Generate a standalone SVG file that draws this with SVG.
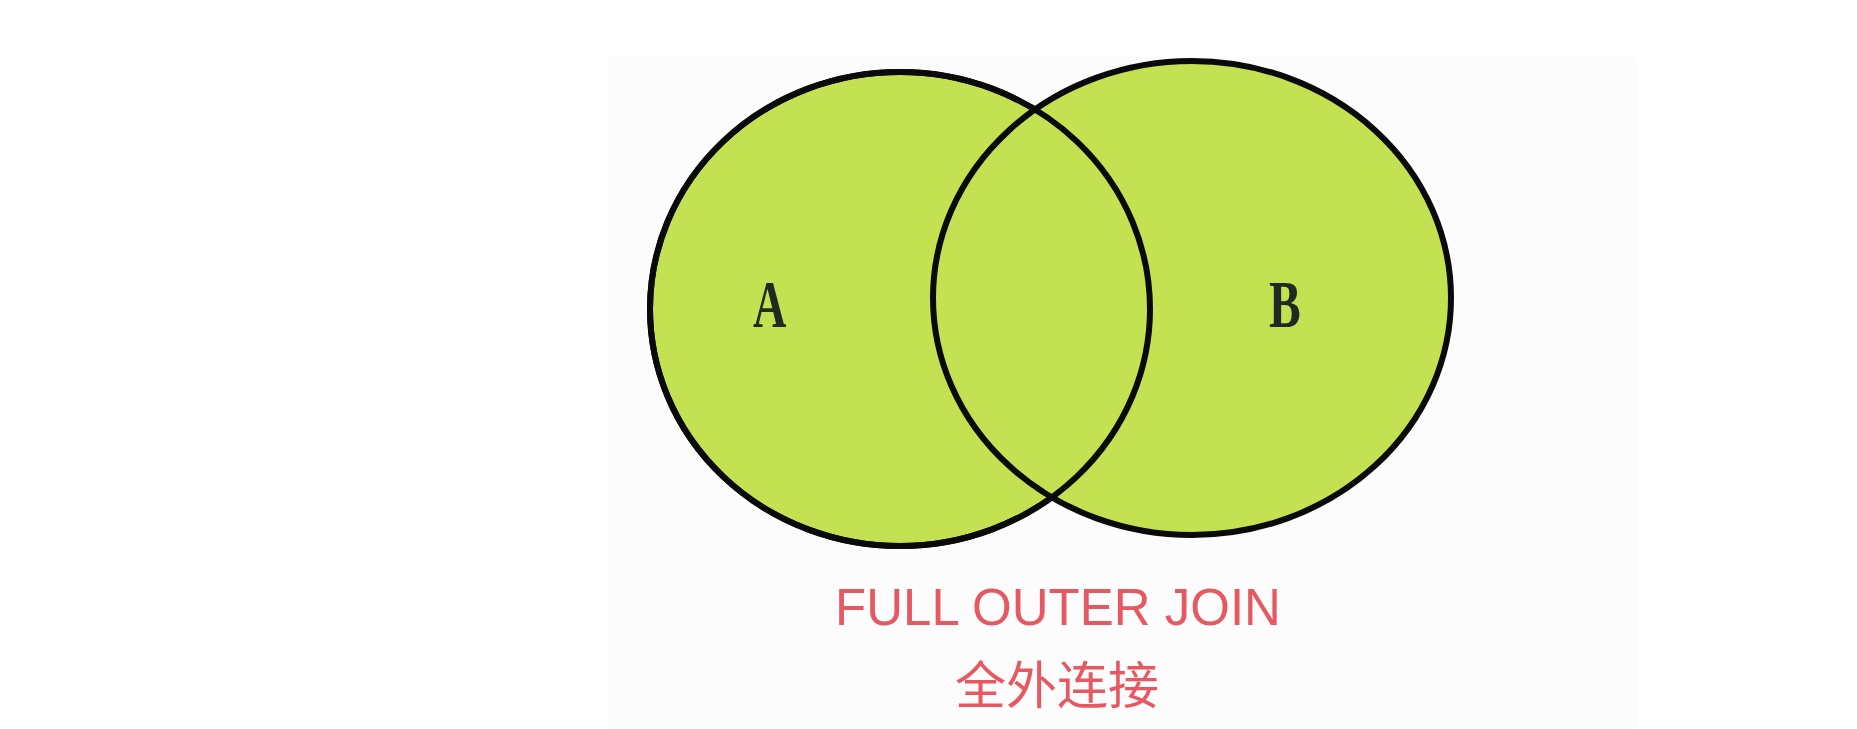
<svg xmlns="http://www.w3.org/2000/svg" width="1857" height="729" viewBox="0 0 1857 729">
  <style>
    .set { fill: #c3e150; stroke: #0a0a0a; stroke-width: 6; }
    .outline { fill: none; stroke: #0a0a0a; stroke-width: 6; }
    .lbl { font-family: "Liberation Serif", "Times New Roman", serif; font-size: 68px; font-weight: bold; fill: #1e2a22; }
    .cap { font-family: "Liberation Sans", Arial, "Noto Sans CJK SC", sans-serif; fill: #e65862; text-anchor: middle; }
  </style>
  <rect x="0" y="0" width="1857" height="729" fill="#ffffff"/>
  <rect x="607" y="57" width="1031" height="672" fill="#fcfcfc"/>
  <g id="setA">
    <ellipse class="set" cx="900" cy="309" rx="250" ry="237"/>
  </g>
  <g id="setB">
    <ellipse class="set" cx="1192" cy="298" rx="259" ry="237"/>
  </g>
  <g id="outlines">
    <ellipse class="outline" cx="900" cy="309" rx="250" ry="237"/>
  </g>
  <g id="labelA">
    <text class="lbl" transform="translate(753,327) scale(0.68,1)">A</text>
  </g>
  <g id="labelB">
    <text class="lbl" transform="translate(1269,327) scale(0.7,1)">B</text>
  </g>
  <g id="caption">
    <text class="cap" x="1058" y="625" font-size="51">FULL OUTER JOIN</text>
    <text class="cap" x="1057" y="704" font-size="51" font-family="'Noto Sans CJK SC', sans-serif">全外连接</text>
  </g>
</svg>
